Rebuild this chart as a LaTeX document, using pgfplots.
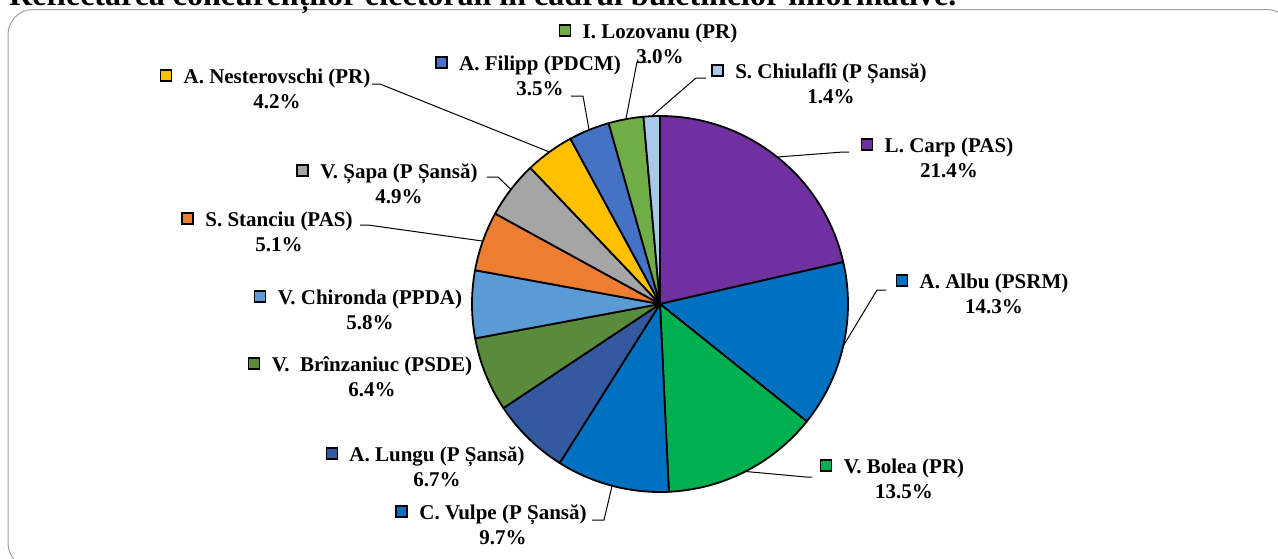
\documentclass[border=0pt]{standalone}
\usepackage{pgfplots}
\pgfplotsset{compat=1.18}
\usepackage{pgfplotstable}
\usepackage{fontspec}
\setmainfont{Liberation Serif}

\definecolor{cCarp}{HTML}{7030A0}
\definecolor{cAlbu}{HTML}{0070C0}
\definecolor{cBolea}{HTML}{00B050}
\definecolor{cVulpe}{HTML}{0070C0}
\definecolor{cLungu}{HTML}{335AA1}
\definecolor{cBrinz}{HTML}{5A8A3C}
\definecolor{cChir}{HTML}{5B9BD5}
\definecolor{cStan}{HTML}{ED7D31}
\definecolor{cSapa}{HTML}{A5A5A5}
\definecolor{cNest}{HTML}{FFC000}
\definecolor{cFil}{HTML}{4472C4}
\definecolor{cLoz}{HTML}{70AD47}
\definecolor{cChiu}{HTML}{A9C8EA}
\definecolor{frame}{HTML}{A0A0A0}

% share in %, then label place (text centre, baseline) and leader line
\pgfplotstableread[col sep=comma]{
name,val,col,lx,ly,lead,sx,ex,sy
L. Carp (PAS),21.4,cCarp,949,152,1,849,843,152
A. Albu (PSRM),14.3,cAlbu,994,288,1,886,877,290
V. Bolea (PR),13.5,cBolea,904,473,1,812,806,477
C. Vulpe (P Șansă),9.7,cVulpe,503,519,1,592,604,520
A. Lungu (P Șansă),6.7,cLungu,437,461,0,0,0,0
V.\ \ Brînzaniuc (PSDE),6.4,cBrinz,372,371,0,0,0,0
V. Chironda (PPDA),5.8,cChir,370,304,0,0,0,0
S. Stanciu (PAS),5.1,cStan,279,226,1,360,368,225
V. Șapa (P Șansă),4.9,cSapa,399,178,1,487,498,177
A. Nesterovschi (PR),4.2,cNest,277,83,1,372,380,84
A. Filipp (PDCM),3.5,cFil,540,70,1,571,583,96
I. Lozovanu (PR),3.0,cLoz,660,38,1,647,637,62
S. Chiulaflî (P Șansă),1.4,cChiu,831,78,1,706,696,78
}\piedata

\begin{document}
\begin{tikzpicture}[lbl/.style={inner sep=0pt,font=\fontsize{21}{24}\selectfont\bfseries}]
\begin{axis}[
    name=ax,
    hide axis,
    scale only axis,
    width=1278pt, height=558pt,
    xmin=0, xmax=1278, ymin=0, ymax=558,
    y dir=reverse,
    clip=false,
]
% frame and (cut) title
\draw[frame, line width=1pt, rounded corners=25pt] (axis cs:8,9.5) rectangle (axis cs:1292,568);
\node[anchor=base west, inner sep=0pt, font=\fontsize{32}{36}\selectfont\bfseries]
    at (axis cs:9,5) {Reflectarea concurenților electorali în cadrul buletinelor informative.};

\pgfplotstablegetrowsof{\piedata}
\pgfmathtruncatemacro\nrows{\pgfplotsretval-1}
\def\astart{90}
\pgfplotsforeachungrouped \i in {0,...,\nrows}{%
  \pgfplotstablegetelem{\i}{val}\of\piedata \let\pval\pgfplotsretval
  \pgfplotstablegetelem{\i}{col}\of\piedata \let\pcol\pgfplotsretval
  \pgfmathsetmacro\aend{\astart-\pval*360/99.9}
  \edef\cmd{\noexpand\draw[fill=\pcol,draw=black,line width=1.8pt,line join=round]
    (axis cs:660,304) -- ([shift={(\astart:188pt)}]axis cs:660,304)
    arc[start angle=\astart,end angle=\aend,radius=188pt] -- cycle;}%
  \cmd
  \let\astart\aend
}

\def\astart{90}
\pgfplotsforeachungrouped \i in {0,...,\nrows}{%
  \pgfplotstablegetelem{\i}{name}\of\piedata \let\pname\pgfplotsretval
  \pgfplotstablegetelem{\i}{val}\of\piedata \let\pval\pgfplotsretval
  \pgfplotstablegetelem{\i}{col}\of\piedata \let\pcol\pgfplotsretval
  \pgfplotstablegetelem{\i}{lx}\of\piedata \let\plx\pgfplotsretval
  \pgfplotstablegetelem{\i}{ly}\of\piedata \let\ply\pgfplotsretval
  \pgfplotstablegetelem{\i}{lead}\of\piedata \let\plead\pgfplotsretval
  \pgfplotstablegetelem{\i}{sx}\of\piedata \let\psx\pgfplotsretval
  \pgfplotstablegetelem{\i}{ex}\of\piedata \let\pex\pgfplotsretval
  \pgfplotstablegetelem{\i}{sy}\of\piedata \let\psy\pgfplotsretval
  \pgfmathsetmacro\aend{\astart-\pval*360/99.9}
  \pgfmathsetmacro\amid{(\astart+\aend)/2}
  \pgfmathsetmacro\plyy{\ply+25}
  \ifnum\plead=1
    \edef\cmd{\noexpand\draw[line width=1pt] (axis cs:\psx,\psy) -- (axis cs:\pex,\psy)
      -- ([shift={(\amid:188pt)}]axis cs:660,304);}%
    \cmd
  \fi
  \edef\cmd{\noexpand\node[lbl,anchor=base] (n\i) at (axis cs:\plx,\ply) {\expandafter\noexpand\pname};
    \noexpand\draw[fill=\pcol,line width=1.5pt] ([xshift=-23pt,yshift=2pt]n\i.base west) rectangle ++(11pt,11pt);
    \noexpand\node[lbl,anchor=base] at (axis cs:\plx,\plyy) {\pval\noexpand\%};}%
  \cmd
  \let\astart\aend
}
\end{axis}
\pgfresetboundingbox
\path[use as bounding box] (ax.south west) rectangle (ax.north east);
\end{tikzpicture}
\end{document}
